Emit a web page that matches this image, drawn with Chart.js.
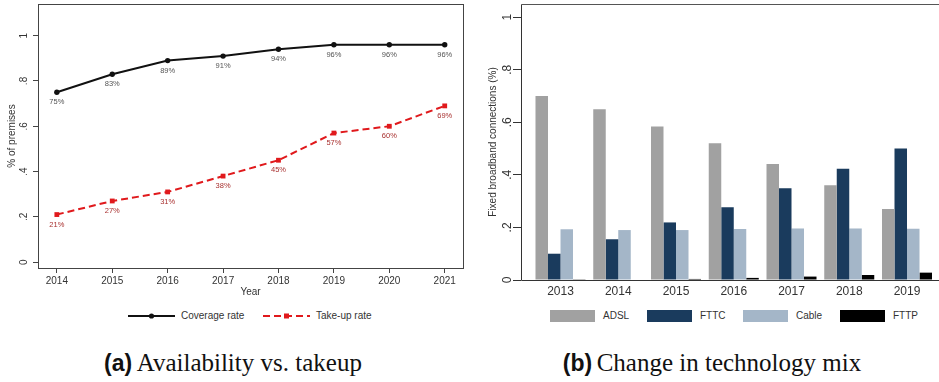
<!DOCTYPE html>
<html>
<head>
<meta charset="utf-8">
<script src="https://cdn.jsdelivr.net/npm/chart.js@4/dist/chart.umd.min.js"></script>
<style>
html,body{margin:0;padding:0;background:#fff;width:939px;height:382px;overflow:hidden;font-family:"Liberation Sans",Arial,sans-serif;}
#wa{position:absolute;left:0;top:0;width:475px;height:300px}
#wb{position:absolute;left:480px;top:0;width:459px;height:300px}
.lt{position:absolute;font-size:10px;color:#333;line-height:12px;white-space:nowrap}
.sw{position:absolute}
.box{position:absolute;width:45px;height:12px;top:310px}
.cap{position:absolute;top:349px;white-space:nowrap;transform:translateX(-50%);line-height:28px;color:#111}
.cap b{font-family:"Liberation Sans",Arial,sans-serif;font-weight:bold;font-size:23px}
.cap span{font-family:"Liberation Serif","DejaVu Serif",serif;font-size:25px}
</style>
</head>
<body>
<div id="wa"><canvas id="ca" width="475" height="300"></canvas></div>
<div id="wb"><canvas id="cb" width="459" height="300"></canvas></div>

<!-- legend (a) -->
<svg class="sw" style="left:128px;top:311px" width="47" height="10">
  <line x1="0" y1="5" x2="47" y2="5" stroke="#111" stroke-width="2"/>
  <circle cx="23.5" cy="5" r="2.6" fill="#111"/>
</svg>
<div class="lt" style="left:181px;top:310px">Coverage rate</div>
<svg class="sw" style="left:263px;top:311px" width="47" height="10">
  <line x1="0" y1="5" x2="47" y2="5" stroke="#e0191c" stroke-width="2" stroke-dasharray="7,4"/>
  <rect x="21" y="2.5" width="5" height="5" fill="#e0191c"/>
</svg>
<div class="lt" style="left:316px;top:310px">Take-up rate</div>

<!-- legend (b) -->
<div class="box" style="left:550px;background:#a1a1a1"></div>
<div class="lt" style="left:603px;top:310px">ADSL</div>
<div class="box" style="left:647px;background:#1a3b5d"></div>
<div class="lt" style="left:700px;top:310px">FTTC</div>
<div class="box" style="left:743px;background:#a4b6c8"></div>
<div class="lt" style="left:796px;top:310px">Cable</div>
<div class="box" style="left:840px;background:#000"></div>
<div class="lt" style="left:893px;top:310px">FTTP</div>

<div class="cap" style="left:233px"><b>(a)</b> <span>Availability vs. takeup</span></div>
<div class="cap" style="left:712px"><b>(b)</b> <span>Change in technology mix</span></div>

<script>
// ---------- data (a) ----------
const years = [2014, 2015, 2016, 2017, 2018, 2019, 2020, 2021];
const coverage = [0.75, 0.83, 0.89, 0.91, 0.94, 0.96, 0.96, 0.96];
const takeup = [0.21, 0.27, 0.31, 0.38, 0.45, 0.57, 0.60, 0.69];
const yTicksA = [0, 0.2, 0.4, 0.6, 0.8, 1];

// ---------- data (b) ----------
const barYears = [2013, 2014, 2015, 2016, 2017, 2018, 2019];
const adsl  = [0.70, 0.65, 0.584, 0.52, 0.441, 0.36, 0.27];
const fttc  = [0.10, 0.155, 0.219, 0.277, 0.349, 0.423, 0.50];
const cable = [0.193, 0.19, 0.19, 0.194, 0.196, 0.196, 0.195];
const fttp  = [0.001, 0.002, 0.004, 0.008, 0.013, 0.019, 0.028];
const yTicksB = [0, 0.2, 0.4, 0.6, 0.8, 1];

Chart.defaults.font.family = "'Liberation Sans', Arial, sans-serif";
Chart.defaults.color = '#333';
Chart.defaults.animation = false;

const fmt = v => v === 0 ? '0' : (v === 1 ? '1' : '.' + Math.round(v * 10));
const pts = (xs, ys) => xs.map((x, i) => ({x: x, y: ys[i]}));
const noPad = s => { s.paddingTop = 0; s.paddingBottom = 0; s.paddingLeft = 0; s.paddingRight = 0; };

const frameA = {
  id: 'frameA',
  afterDraw(chart) {
    const {ctx, chartArea: a} = chart;
    ctx.save();
    ctx.strokeStyle = '#444';
    ctx.lineWidth = 1;
    ctx.strokeRect(Math.round(a.left) + 0.5, Math.round(a.top) + 0.5, Math.round(a.right - a.left), Math.round(a.bottom - a.top));
    ctx.restore();
  }
};

const labelsA = {
  id: 'labelsA',
  afterDatasetsDraw(chart) {
    const ctx = chart.ctx;
    ctx.save();
    ctx.font = "7.5px 'Liberation Sans', Arial, sans-serif";
    ctx.textAlign = 'center';
    ctx.textBaseline = 'middle';
    chart.data.datasets.forEach((ds, i) => {
      const meta = chart.getDatasetMeta(i);
      ctx.fillStyle = ds.labelColor;
      meta.data.forEach((pt, j) => {
        ctx.fillText(Math.round(ds.data[j].y * 100) + '%', pt.x, pt.y + 10);
      });
    });
    ctx.restore();
  }
};

new Chart(document.getElementById('ca'), {
  type: 'line',
  data: {
    datasets: [
      {label: 'Coverage rate', data: pts(years, coverage), borderColor: '#111', backgroundColor: '#111',
       borderWidth: 2, pointRadius: 2.7, pointBorderWidth: 0, pointStyle: 'circle', tension: 0, labelColor: '#555'},
      {label: 'Take-up rate', data: pts(years, takeup), borderColor: '#e0191c', backgroundColor: '#e0191c',
       borderWidth: 2, borderDash: [7, 4], pointRadius: 3.4, pointBorderWidth: 0, pointStyle: 'rect', tension: 0, labelColor: '#a8302f'}
    ]
  },
  options: {
    responsive: false,
    layout: {padding: {left: 0, right: 12, top: 4, bottom: 0}, autoPadding: false},
    plugins: {legend: {display: false}, tooltip: {enabled: false}},
    scales: {
      x: {
        type: 'linear', min: 2013.66, max: 2021.33,
        afterBuildTicks: s => { s.ticks = years.map(v => ({value: v})); },
        afterFit: s => { s.height = 32; noPad(s); },
        grid: {drawOnChartArea: false, drawTicks: true, tickLength: 5, color: '#444'},
        border: {display: false},
        ticks: {font: {size: 10}, padding: 2, maxRotation: 0, callback: v => String(v)},
        title: {display: true, text: 'Year', font: {size: 10}, padding: {top: 0, bottom: 2}}
      },
      y: {
        min: -0.026, max: 1.14,
        afterBuildTicks: s => { s.ticks = yTicksA.map(v => ({value: v})); },
        afterFit: s => { s.width = 38; noPad(s); },
        grid: {drawOnChartArea: false, drawTicks: true, tickLength: 5, color: '#444'},
        border: {display: false},
        ticks: {font: {size: 10}, padding: 5, minRotation: 90, maxRotation: 90, crossAlign: 'center', callback: fmt},
        title: {display: true, text: '% of premises', font: {size: 10}, padding: {top: 6, bottom: 0}}
      }
    }
  },
  plugins: [frameA, labelsA]
});

const frameB = {
  id: 'frameB',
  afterDraw(chart) {
    const {ctx, chartArea: a} = chart;
    ctx.save();
    ctx.strokeStyle = '#555';
    ctx.lineWidth = 1;
    ctx.beginPath();
    ctx.moveTo(Math.round(a.left) + 0.5, Math.round(a.top) + 0.5);
    ctx.lineTo(a.right, Math.round(a.top) + 0.5);
    ctx.stroke();
    ctx.strokeStyle = '#333';
    ctx.beginPath();
    ctx.moveTo(Math.round(a.left) + 0.5, Math.round(a.top) + 0.5);
    ctx.lineTo(Math.round(a.left) + 0.5, Math.round(a.bottom) + 0.5);
    ctx.lineTo(a.right, Math.round(a.bottom) + 0.5);
    ctx.stroke();
    ctx.restore();
  }
};

new Chart(document.getElementById('cb'), {
  type: 'bar',
  data: {
    datasets: [
      {label: 'ADSL', data: pts(barYears, adsl), backgroundColor: '#a1a1a1'},
      {label: 'FTTC', data: pts(barYears, fttc), backgroundColor: '#1a3b5d'},
      {label: 'Cable', data: pts(barYears, cable), backgroundColor: '#a4b6c8'},
      {label: 'FTTP', data: pts(barYears, fttp), backgroundColor: '#000'}
    ]
  },
  options: {
    responsive: false,
    layout: {padding: {left: 0, right: 0, top: 4, bottom: 0}, autoPadding: false},
    datasets: {bar: {barPercentage: 1, categoryPercentage: 0.866, borderWidth: 0}},
    plugins: {legend: {display: false}, tooltip: {enabled: false}},
    scales: {
      x: {
        type: 'linear', min: 2012.316, max: 2019.554, offset: false,
        afterBuildTicks: s => { s.ticks = barYears.map(v => ({value: v})); },
        afterFit: s => { s.height = 20; noPad(s); },
        grid: {display: false, drawTicks: false},
        border: {display: false},
        ticks: {font: {size: 12}, padding: 4, maxRotation: 0, callback: v => String(v)}
      },
      y: {
        min: 0, max: 1.05,
        afterBuildTicks: s => { s.ticks = yTicksB.map(v => ({value: v})); },
        afterFit: s => { s.width = 41; noPad(s); },
        grid: {drawOnChartArea: false, drawTicks: true, tickLength: 8, color: '#333'},
        border: {display: false},
        ticks: {font: {size: 12}, padding: 0, minRotation: 90, maxRotation: 90, crossAlign: 'center', callback: fmt},
        title: {display: true, text: 'Fixed broadband connections (%)', font: {size: 10}, padding: {top: 7, bottom: 0}}
      }
    }
  },
  plugins: [frameB]
});
</script>
</body>
</html>
